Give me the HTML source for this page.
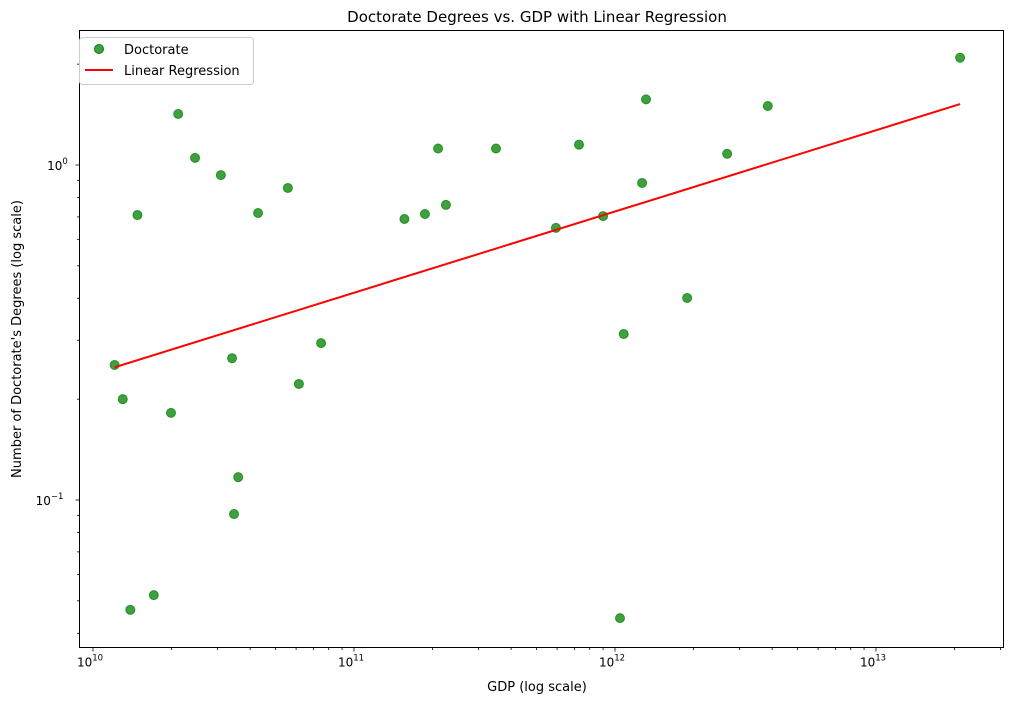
<!DOCTYPE html>
<html><head><meta charset="utf-8"><style>
body{margin:0;background:#fff;font-family:"Liberation Sans","DejaVu Sans",sans-serif;}
svg text{font-family:"DejaVu Sans","Liberation Sans",sans-serif;fill:#000}
</style></head><body>
<svg id="chart" width="1012" height="704" xmlns="http://www.w3.org/2000/svg">
<text x="537" y="22" text-anchor="middle" font-size="15">Doctorate Degrees vs. GDP with Linear Regression</text>
<text x="537" y="691" text-anchor="middle" font-size="13">GDP (log scale)</text>
<text transform="translate(21,339) rotate(-90)" text-anchor="middle" font-size="13">Number of Doctorate's Degrees (log scale)</text>
<g id="ticks"></g>
<g id="marks"></g>
<rect x="79.5" y="30.5" width="924" height="617" fill="none" stroke="#000" stroke-width="1"/>
<g>
<rect x="79.5" y="37.5" width="174" height="47" rx="3" fill="#fff" stroke="#ccc"/>
<circle cx="99" cy="49" r="4.5" fill="green" fill-opacity="0.75" stroke="green"/>
<text x="124" y="54" font-size="13">Doctorate</text>
<line x1="85" y1="70" x2="113" y2="70" stroke="red" stroke-width="2"/>
<text x="124" y="75" font-size="13">Linear Regression</text>
</g>
</svg>
<script>
const gdp = [1.21e10,1.30e10,1.39e10,1.48e10,1.71e10,1.99e10,2.12e10,2.46e10,3.09e10,3.41e10,3.47e10,3.60e10,4.29e10,5.58e10,6.15e10,7.48e10,1.56e11,1.87e11,2.10e11,2.25e11,3.50e11,5.94e11,7.28e11,9.00e11,1.045e12,1.08e12,1.27e12,1.315e12,1.89e12,2.69e12,3.85e12,2.10e13];
const doctorate = [0.253,0.200,0.047,0.709,0.052,0.182,1.42,1.05,0.933,0.265,0.0908,0.117,0.719,0.854,0.222,0.294,0.690,0.714,1.12,0.760,1.12,0.649,1.15,0.704,0.0444,0.313,0.884,1.57,0.401,1.08,1.50,2.09];
const regX = [1.21e10,2.10e13];
const regY = [0.249,1.52];
const xTickVals = [1e10,1e11,1e12,1e13];
const xTickLabels = ["10","10","10","10"];
const xTickExp = ["10","11","12","13"];
const yTickVals = [0.1,1];
const yTickExp = ["−1","0"];

const X0=93, XD=261, Y0=165, YD=335, L=79.5, R=1003.5, T=30.5, B=647.5;
const xs = v => X0 + (Math.log10(v)-10)*XD;
const ys = v => Y0 - Math.log10(v)*YD;
const NS="http://www.w3.org/2000/svg";
function mk(tag, attrs, parent){const e=document.createElementNS(NS,tag);for(const k in attrs)e.setAttribute(k,attrs[k]);parent.appendChild(e);return e;}
const tg=document.getElementById('ticks'), mg=document.getElementById('marks');
// minor x ticks
for(let d=10;d<=13;d++)for(let m=2;m<=9;m++){const x=xs(m*Math.pow(10,d));if(x>L&&x<R){const t=mk('line',{x1:x,y1:B,x2:x,y2:B+2.5,stroke:'#000','stroke-width':0.8},tg);

}}
xTickVals.forEach((v,i)=>{const x=xs(v);const t=mk('line',{x1:x,y1:B,x2:x,y2:B+4,stroke:'#000','stroke-width':0.8},tg);


const tx=mk('text',{x:x-3,y:B+19,'text-anchor':'middle','font-size':12},tg);


tx.textContent=xTickLabels[i];
const sp=mk('tspan',{dy:-6,'font-size':8.5},tx);sp.textContent=xTickExp[i];});
// minor y ticks
for(let d=-2;d<=0;d++)for(let m=2;m<=9;m++){const y=ys(m*Math.pow(10,d));if(y>T&&y<B){const t=mk('line',{x1:L-2.5,y1:y,x2:L,y2:y,stroke:'#000','stroke-width':0.8},tg);

}}
yTickVals.forEach((v,i)=>{const y=ys(v);const t=mk('line',{x1:L-4,y1:y,x2:L,y2:y,stroke:'#000','stroke-width':0.8},tg);


const tx=mk('text',{x:i==0?L-30:L-22,y:y+5,'text-anchor':'middle','font-size':12},tg);


tx.textContent='10';
const sp=mk('tspan',{dy:-6,'font-size':8.5},tx);sp.textContent=yTickExp[i];});
gdp.forEach((g,i)=>{const c=mk('circle',{cx:xs(g),cy:ys(doctorate[i]),r:4.5,fill:'green','fill-opacity':0.75,stroke:'green','stroke-opacity':0.75},mg);

});
const ln=mk('line',{x1:xs(regX[0]),y1:ys(regY[0]),x2:xs(regX[1]),y2:ys(regY[1]),stroke:'red','stroke-width':2},mg);


</script>
</body></html>
